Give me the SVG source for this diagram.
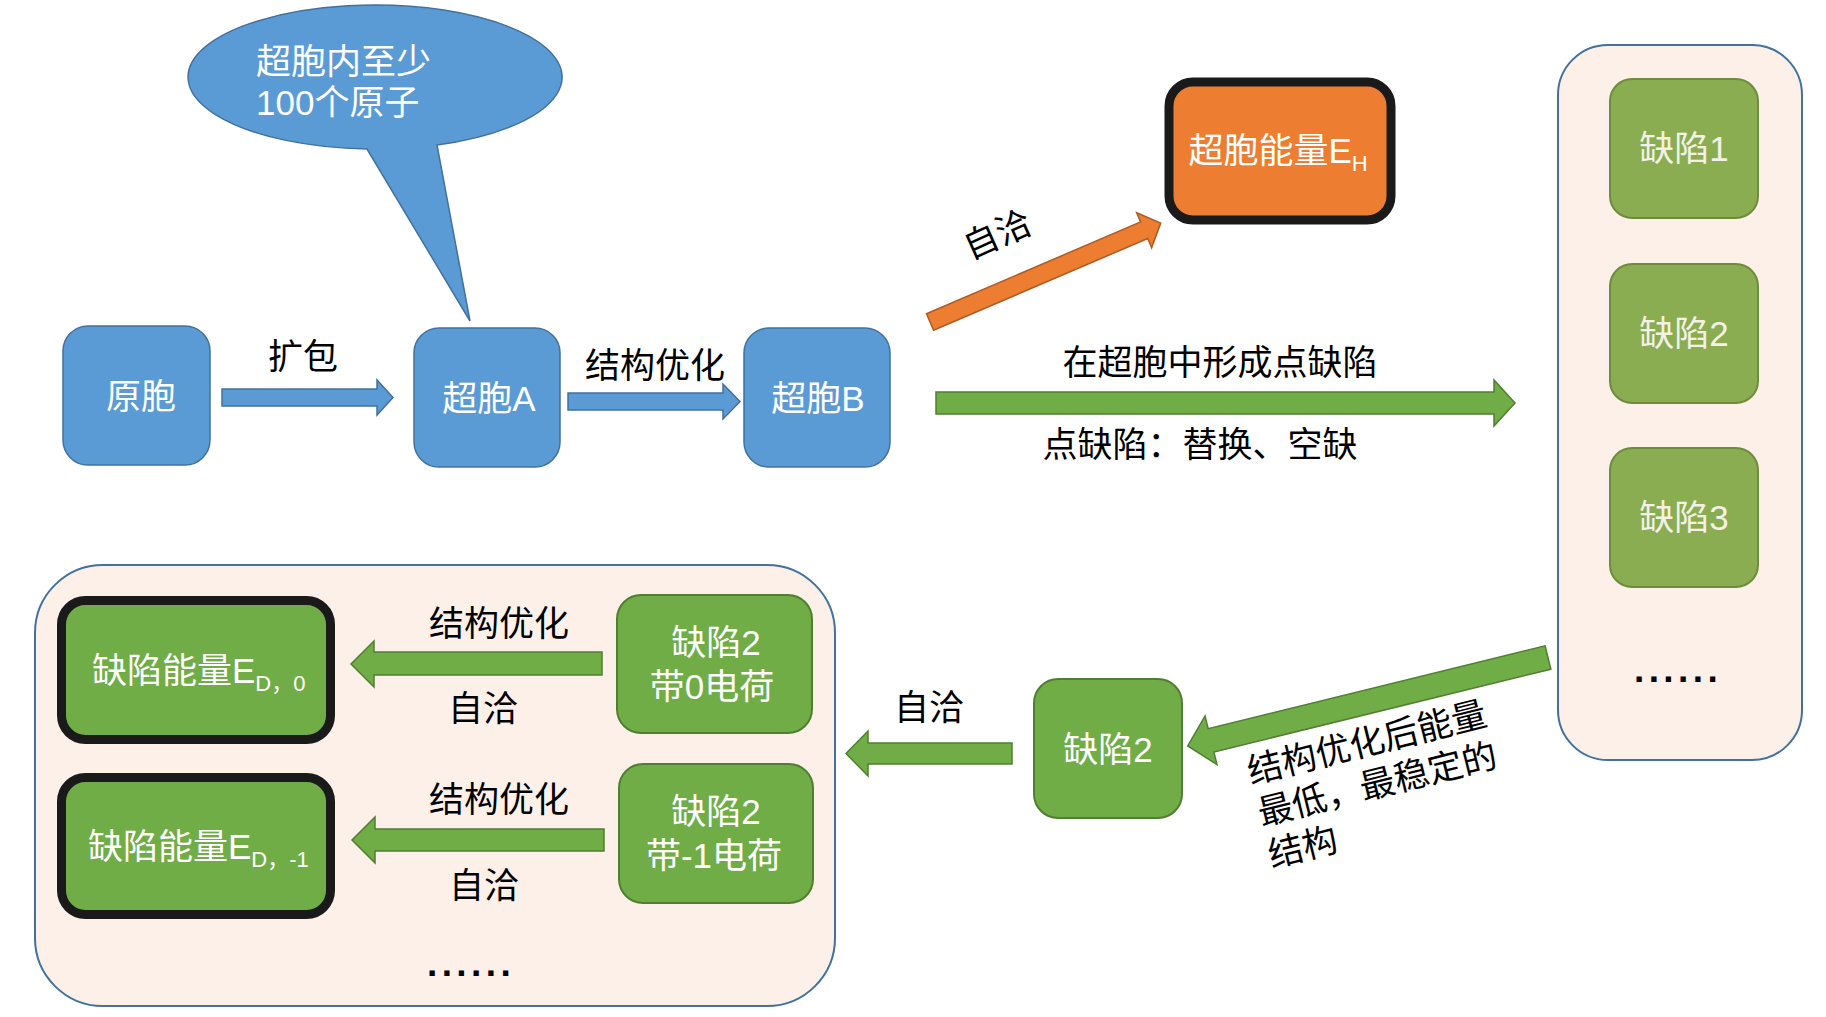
<svg xmlns="http://www.w3.org/2000/svg" width="1826" height="1017" viewBox="0 0 1826 1017">
<style>
text{font-family:"Liberation Sans","Noto Sans CJK SC",sans-serif;font-size:35px}
.w{fill:#FFFFFF}
.wl{fill:#F4F1E6}
.k{fill:#000000}
.m{text-anchor:middle}
.blue{fill:#5B9BD5;stroke:#41719C;stroke-width:1.5}
.gn{fill:#70AD47;stroke:#507E32;stroke-width:2}
.gl{fill:#8AAD52;stroke:#6E8C3E;stroke-width:2}
.or{fill:#ED7D31;stroke:#1A1A1A;stroke-width:9}
.gb{fill:#70AD47;stroke:#1A1A1A;stroke-width:9}
.cont{fill:#FDF0E9;stroke:#41719C;stroke-width:2}
.ab{fill:#5B9BD5;stroke:#41719C;stroke-width:1.5}
.ag{fill:#70AD47;stroke:#507E32;stroke-width:1.5}
.ao{fill:#ED7D31;stroke:#AE5A21;stroke-width:1.5}
.dots{font-family:"Liberation Sans",sans-serif;font-weight:bold;font-size:37px;letter-spacing:4.4px}
.sub{font-size:22px}
</style>
<rect width="1826" height="1017" fill="#FFFFFF"/>

<g id="containers">
<rect id="container-right" class="cont" x="1558" y="45" width="244" height="715" rx="50"/>
<rect id="container-bottom" class="cont" x="35" y="565" width="800" height="441" rx="68"/>
</g>

<g id="connectors">
<polygon class="ab" points="222,389 377,389 377,380 393,397.5 377,415 377,406 222,406"/>
<polygon class="ab" points="568,393 723,393 723,384 740,401.5 723,419 723,410 568,410"/>
<polygon class="ao" transform="translate(930,322) rotate(-23.2)" points="0,-9 233,-9 233,-19 251,0 233,19 233,9 0,9"/>
<polygon class="ag" points="936,392 1494,392 1494,380 1515,403 1494,426 1494,414 936,414"/>
<polygon class="ag" transform="translate(1548,657.5) rotate(166.2)" points="0,-12 347,-12 347,-25 371,0 347,25 347,12 0,12"/>
<polygon class="ag" points="1012,743 868,743 868,731 846,753.5 868,776 868,764 1012,764"/>
<polygon class="ag" points="602,652 374,652 374,641 351,664 374,687 374,675 602,675"/>
<polygon class="ag" points="604,829 375,829 375,817 352,840 375,863 375,851 604,851"/>
</g>

<g id="labels">
<text class="k m" x="303" y="369">扩包</text>
<text class="k m" x="655" y="378">结构优化</text>
<text class="k m" transform="translate(997,234) rotate(-24)" x="0" y="13">自洽</text>
<text class="k m" x="1220" y="375">在超胞中形成点缺陷</text>
<text class="k m" x="1200" y="457">点缺陷：替换、空缺</text>
<text class="k" transform="translate(1251,784) rotate(-14)"><tspan x="0" y="0">结构优化后能量</tspan><tspan x="0" y="43">最低，最稳定的</tspan><tspan x="0" y="86">结构</tspan></text>
<text class="k m" x="929" y="720">自洽</text>
<text class="k m" x="499" y="636">结构优化</text>
<text class="k m" x="483" y="721">自洽</text>
<text class="k m" x="499" y="812">结构优化</text>
<text class="k m" x="484" y="898">自洽</text>
<text class="k dots" x="1634" y="682">......</text>
<text class="k dots" x="427" y="976">......</text>
</g>

<g id="bubble">
<path class="blue" d="M367,149 A187 72 0 1 1 437,145 L470,321 Z"/>
<text class="w"><tspan x="256" y="74">超胞内至少</tspan><tspan x="256" y="115">100个原子</tspan></text>
</g>

<g id="node-primitive">
<rect class="blue" x="63" y="326" width="147" height="139" rx="25"/>
<text class="w m" x="141" y="409">原胞</text>
</g>
<g id="node-supercellA">
<rect class="blue" x="414" y="328" width="146" height="139" rx="25"/>
<text class="w m" x="489" y="411">超胞A</text>
</g>
<g id="node-supercellB">
<rect class="blue" x="744" y="328" width="146" height="139" rx="25"/>
<text class="w m" x="818" y="411">超胞B</text>
</g>
<g id="node-EH">
<rect class="or" x="1169" y="82" width="222" height="138" rx="24"/>
<text class="w m" x="1278" y="163">超胞能量E<tspan class="sub" dy="8">H</tspan></text>
</g>

<g id="node-defect1">
<rect class="gl" x="1610" y="79" width="148" height="139" rx="22"/>
<text class="wl m" x="1684" y="161">缺陷1</text>
</g>
<g id="node-defect2">
<rect class="gl" x="1610" y="264" width="148" height="139" rx="22"/>
<text class="wl m" x="1684" y="346">缺陷2</text>
</g>
<g id="node-defect3">
<rect class="gl" x="1610" y="448" width="148" height="139" rx="22"/>
<text class="wl m" x="1684" y="530">缺陷3</text>
</g>

<g id="node-defect2-selected">
<rect class="gn" x="1034" y="679" width="148" height="139" rx="24"/>
<text class="w m" x="1108" y="762">缺陷2</text>
</g>

<g id="node-defect2-q0">
<rect class="gn" x="617" y="595" width="195" height="138" rx="24"/>
<text class="w m"><tspan x="716" y="655">缺陷2</tspan><tspan x="712" y="699">带0电荷</tspan></text>
</g>
<g id="node-defect2-qm1">
<rect class="gn" x="619" y="764" width="194" height="139" rx="24"/>
<text class="w m"><tspan x="716" y="824">缺陷2</tspan><tspan x="714" y="868">带-1电荷</tspan></text>
</g>

<g id="node-ED0">
<rect class="gb" x="61.5" y="600.5" width="269" height="139" rx="24"/>
<text class="w" x="92" y="683">缺陷能量E<tspan class="sub" dy="8">D，0</tspan></text>
</g>
<g id="node-EDm1">
<rect class="gb" x="61.5" y="777.5" width="269" height="137" rx="24"/>
<text class="w" x="88" y="859">缺陷能量E<tspan class="sub" dy="8">D，-1</tspan></text>
</g>
</svg>
